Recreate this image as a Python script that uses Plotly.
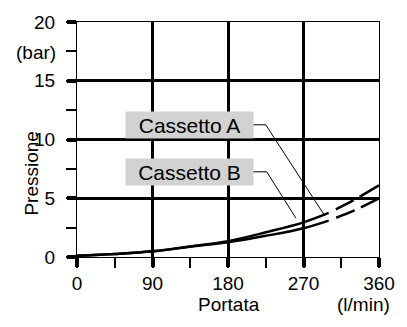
import plotly.graph_objects as go

flow_solid = [0, 45, 90, 135, 180, 225, 270, 300]
press_a_solid = [0.1, 0.25, 0.48, 0.9, 1.35, 2.1, 2.95, 3.75]
press_b_solid = [0.1, 0.25, 0.48, 0.88, 1.25, 1.8, 2.45, 3.1]
flow_dash = [300, 330, 360]
press_a_dash = [3.75, 4.85, 6.1]
press_b_dash = [3.1, 3.95, 5.0]

x_ticks = [0, 90, 180, 270, 360]
y_ticks = [0, 5, 10, 15, 20]
labels = ["Cassetto A", "Cassetto B"]

FONT = "Liberation Sans, Arial, sans-serif"
fig = go.Figure()
line = dict(color="black", width=2.5)
fig.add_trace(go.Scatter(x=flow_solid, y=press_a_solid, mode="lines", line=dict(line, shape="spline")))
fig.add_trace(go.Scatter(x=flow_solid, y=press_b_solid, mode="lines", line=dict(line, shape="spline")))
fig.add_trace(go.Scatter(x=flow_dash, y=press_a_dash, mode="lines",
                         line=dict(line, shape="spline", dash="0px,8px,20px,7px,20px")))
fig.add_trace(go.Scatter(x=flow_dash, y=press_b_dash, mode="lines",
                         line=dict(line, shape="spline", dash="0px,8px,20px,7px,20px")))

# label boxes and leader lines
for lab, yc, pts in [(labels[0], 11.25, [(207.7, 11.25), (225, 11.25), (295.4, 3.5)]),
                     (labels[1], 7.25, [(207.7, 7.25), (226.2, 7.25), (260.8, 3.33)])]:
    fig.add_annotation(x=134.4, y=yc, xref="x", yref="y", text=lab, showarrow=False,
                       bgcolor="#d2d2d2", width=123, height=22, borderpad=2,
                       xanchor="center", yanchor="middle",
                       font=dict(family=FONT, size=21, color="black"))
    path = "M %f,%f L %f,%f L %f,%f" % (pts[0] + pts[1] + pts[2])
    fig.add_shape(type="path", path=path, xref="x", yref="y", line=dict(color="black", width=1))

axis_common = dict(showline=True, linecolor="black", linewidth=1, mirror=True,
                   showgrid=True, gridcolor="black", gridwidth=2.5,
                   ticks="outside", ticklen=9, tickwidth=4, tickcolor="black",
                   zeroline=False, tickfont=dict(family=FONT, size=19, color="black"))

fig.update_xaxes(range=[0, 360], tickvals=x_ticks, ticklabelstandoff=0,
                 minor=dict(dtick=45, ticks="outside", ticklen=10, tickwidth=1.5, tickcolor="black", showgrid=False),
                 **axis_common)
fig.update_yaxes(range=[0, 20], tickvals=y_ticks, ticklabelstandoff=8,
                 minor=dict(dtick=2.5, ticks="outside", ticklen=10, tickwidth=1.5, tickcolor="black", showgrid=False),
                 **axis_common)

tf = dict(family=FONT, size=19, color="black")
ann = dict(xref="paper", yref="paper", showarrow=False, font=tf, xanchor="center", yanchor="middle")
fig.add_annotation(x=-0.137, y=0.871, text="(bar)", **ann)
fig.add_annotation(x=0.502, y=-0.2, text="Portata", **ann)
fig.add_annotation(x=0.949, y=-0.2, text="(l/min)", **ann)
fig.add_annotation(x=-0.150, y=0.358, text="Pressione", textangle=-90, **ann)

fig.update_layout(width=407, height=327, margin=dict(l=77, r=17, t=17, b=70),
                  plot_bgcolor="white", paper_bgcolor="white", showlegend=False)
fig.write_html("out.html")
